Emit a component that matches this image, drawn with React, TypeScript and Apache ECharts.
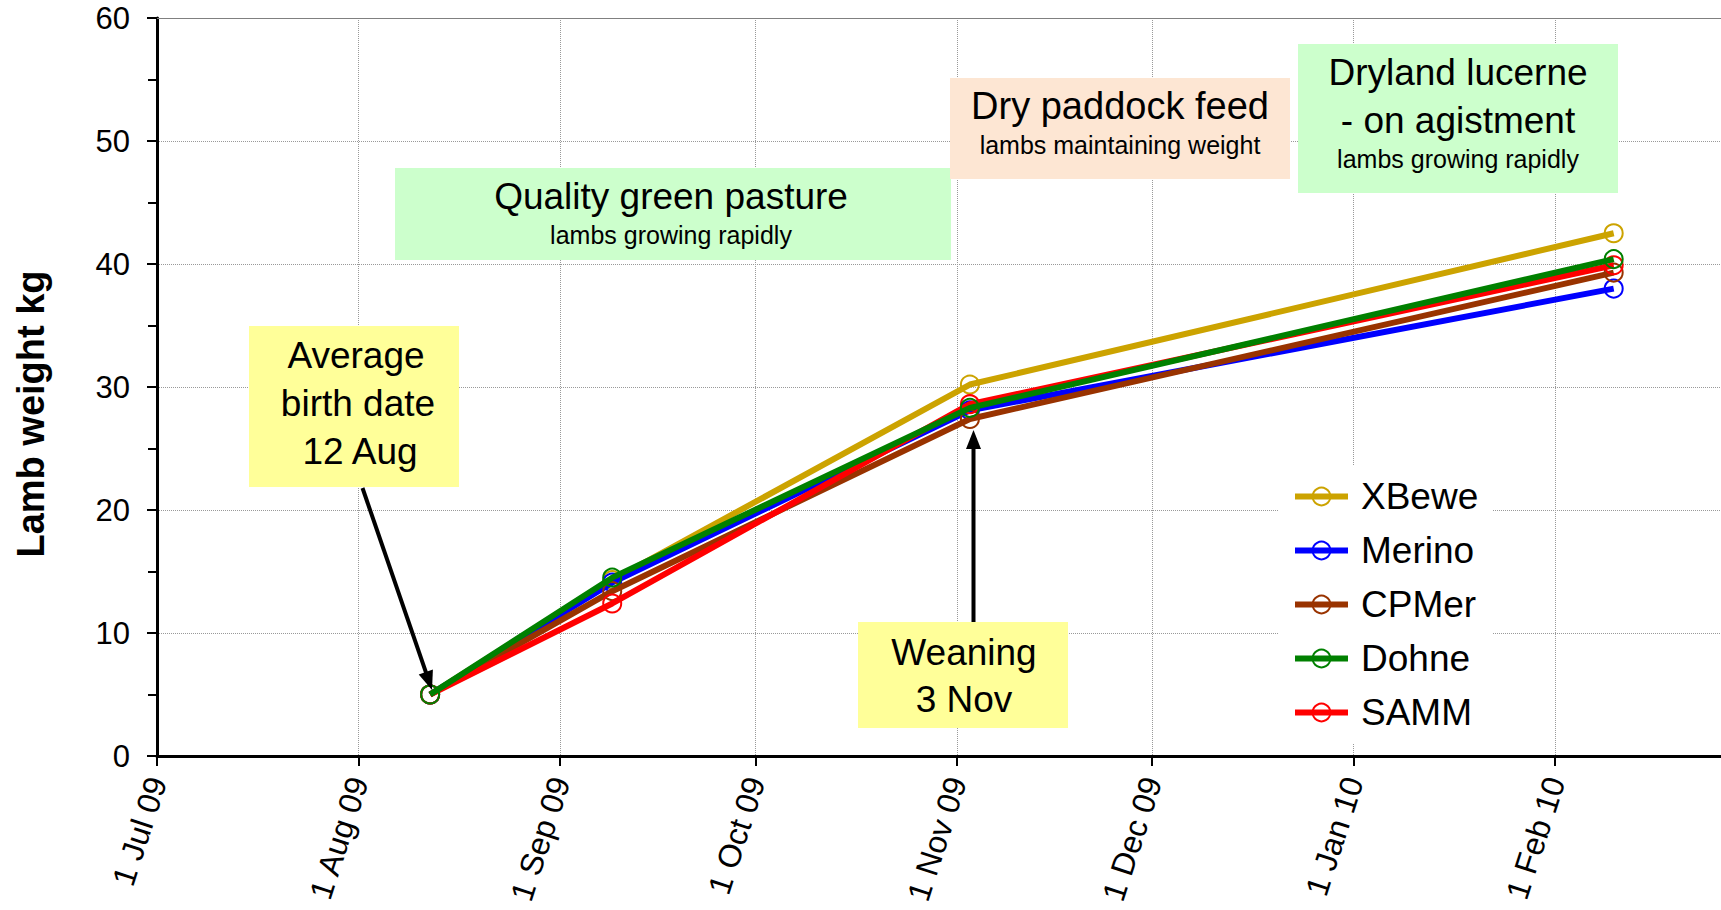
import React, { useEffect, useRef } from "react";
import * as echarts from "echarts";

// ---- data ----
const seriesNames = ["XBewe", "Merino", "CPMer", "Dohne", "SAMM"];
const seriesColors = ["#CCA300", "#0000FF", "#993300", "#008000", "#FF0000"];
const seriesZ = [2, 3, 4, 6, 5];
const weighDates = ["2009-08-12", "2009-09-09", "2009-11-03", "2010-02-10"];
const xbewe = [5.0, 14.3, 30.2, 42.5];
const merino = [5.0, 14.1, 28.1, 38.0];
const cpmer = [5.0, 13.4, 27.4, 39.3];
const dohne = [5.0, 14.5, 28.3, 40.4];
const samm = [5.0, 12.4, 28.6, 39.9];
const seriesValues = [xbewe, merino, cpmer, dohne, samm];
const monthNames = ["Jan", "Feb", "Mar", "Apr", "May", "Jun", "Jul", "Aug", "Sep", "Oct", "Nov", "Dec"];
const xStart = "2009-07-01";
const xEnd = "2010-02-26";
const yMin = 0;
const yMax = 60;
const yInterval = 10;

const FONT = '"Liberation Sans", Arial, sans-serif';

function parseDate(s: string, hour = 0): number {
  const [y, m, d] = s.split("-").map(Number);
  return new Date(y, m - 1, d, hour).getTime();
}

function arrow(x1: number, y1: number, x2: number, y2: number): any[] {
  const dx = x2 - x1;
  const dy = y2 - y1;
  const L = Math.hypot(dx, dy);
  const ux = dx / L;
  const uy = dy / L;
  const hl = 19;
  const hw = 7.5;
  const bx = x2 - ux * hl;
  const by = y2 - uy * hl;
  return [
    {
      type: "line",
      z: 20,
      shape: { x1, y1, x2: bx + ux * 2, y2: by + uy * 2 },
      style: { stroke: "#000", lineWidth: 4 },
    },
    {
      type: "polygon",
      z: 20,
      shape: {
        points: [
          [x2, y2],
          [bx - uy * hw, by + ux * hw],
          [bx + uy * hw, by - ux * hw],
        ],
      },
      style: { fill: "#000" },
    },
  ];
}

function box(x: number, y: number, w: number, h: number, fill: string): any {
  return { type: "rect", z: 10, shape: { x, y, width: w, height: h }, style: { fill } };
}

function label(text: string, x: number, y: number, size: number): any {
  return {
    type: "text",
    z: 11,
    x,
    y,
    style: {
      text,
      fontSize: size,
      fontFamily: FONT,
      fill: "#000",
      align: "center",
      verticalAlign: "middle",
    },
  };
}

export default function App() {
  const ref = useRef<HTMLDivElement>(null);

  useEffect(() => {
    if (!ref.current) return;
    const chart = echarts.init(ref.current, undefined, { renderer: "svg" });

    const series = seriesNames.map((name, i) => ({
      name,
      type: "line",
      z: seriesZ[i],
      data: weighDates.map((d, j) => [parseDate(d), seriesValues[i][j]]),
      symbol: "circle",
      symbolSize: 18,
      showSymbol: true,
      lineStyle: { color: seriesColors[i], width: 6 },
      itemStyle: { color: "rgba(255,255,255,0)", borderColor: seriesColors[i], borderWidth: 2 },
      emphasis: { disabled: true },
      ...(i === 0
        ? {
            markLine: {
              silent: true,
              symbol: ["none", "none"],
              label: { show: false },
              lineStyle: { color: "#808080", type: "solid", width: 1 },
              data: [{ yAxis: yMax }],
            },
          }
        : {}),
    }));

    const option: any = {
      animation: false,
      grid: { left: 157, top: 18, right: 0, bottom: 154, containLabel: false },
      xAxis: {
        type: "time",
        min: parseDate(xStart),
        max: parseDate(xEnd, 12),
        splitNumber: 8,
        minInterval: 28 * 86400000,
        maxInterval: 31 * 86400000,
        axisLine: { show: true, onZero: false, lineStyle: { color: "#000", width: 3 } },
        axisTick: { show: true, length: 10, lineStyle: { color: "#000", width: 2 } },
        splitLine: { show: true, lineStyle: { color: "#999", type: "dotted", width: 1 } },
        axisLabel: {
          interval: 0,
          rotate: 72,
          margin: 22,
          fontSize: 32,
          fontFamily: FONT,
          color: "#000",
          showMaxLabel: false,
          formatter: (v: number) => {
            const d = new Date(v);
            if (d.getDate() !== 1 || d.getHours() !== 0) return "";
            const yy = String(d.getFullYear() % 100).padStart(2, "0");
            return `1 ${monthNames[d.getMonth()]} ${yy}`;
          },
        },
      },
      yAxis: {
        type: "value",
        min: yMin,
        max: yMax,
        interval: yInterval,
        axisLine: { show: true, lineStyle: { color: "#000", width: 3 } },
        axisTick: { show: true, length: 10, lineStyle: { color: "#000", width: 2 } },
        minorTick: { show: true, splitNumber: 2, length: 9, lineStyle: { color: "#000", width: 2 } },
        splitLine: { show: true, lineStyle: { color: "#999", type: "dotted", width: 1 } },
        axisLabel: { margin: 27, fontSize: 31, fontFamily: FONT, color: "#000" },
      },
      legend: {
        orient: "vertical",
        left: 1278,
        top: 466,
        padding: [12, 14, 12, 14],
        backgroundColor: "#fff",
        itemWidth: 53,
        itemHeight: 22,
        itemGap: 17,
        selectedMode: false,
        data: seriesNames,
        lineStyle: { width: 6 },
        itemStyle: { borderWidth: 2 },
        textStyle: {
          fontSize: 37,
          fontFamily: FONT,
          color: "#000",
          lineHeight: 37,
          padding: [0, 0, 0, 8],
        },
      },
      graphic: [
        {
          type: "text",
          z: 11,
          x: 31,
          y: 414,
          rotation: Math.PI / 2,
          style: {
            text: "Lamb weight kg",
            fontSize: 38,
            fontWeight: "bold",
            fontFamily: FONT,
            fill: "#000",
            align: "center",
            verticalAlign: "middle",
          },
        },
        box(395, 168, 556, 92, "#CCFFCC"),
        label("Quality green pasture", 671, 196, 37),
        label("lambs growing rapidly", 671, 235, 25),
        box(950, 78, 340, 101, "#FDE6D3"),
        label("Dry paddock feed", 1120, 106, 38),
        label("lambs maintaining weight", 1120, 145, 25),
        box(1298, 44, 320, 149, "#CCFFCC"),
        label("Dryland lucerne", 1458, 72, 37),
        label("- on agistment", 1458, 120, 37),
        label("lambs growing rapidly", 1458, 159, 25),
        box(249, 326, 210, 161, "#FFFF99"),
        label("Average", 356, 355, 37),
        label("birth date", 358, 403, 37),
        label("12 Aug", 360, 451, 37),
        box(858, 622, 210, 106, "#FFFF99"),
        label("Weaning", 964, 652, 37),
        label("3 Nov", 964, 699, 37),
        ...arrow(362.5, 488, 432, 690),
        ...arrow(973.5, 622, 973.5, 430),
      ],
      series,
    };

    chart.setOption(option);
    return () => chart.dispose();
  }, []);

  return (
    <div
      ref={ref}
      style={{ position: "fixed", left: 0, top: 0, width: 1721, height: 910, background: "#fff" }}
    />
  );
}
